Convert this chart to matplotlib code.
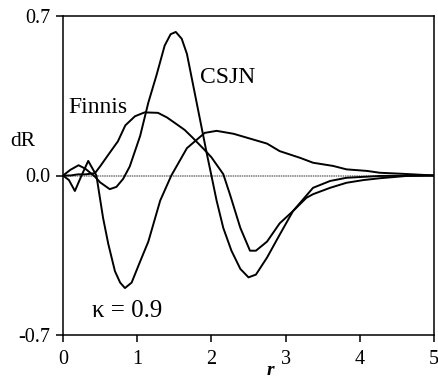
import numpy as np
import matplotlib
matplotlib.use('Agg')
import matplotlib.pyplot as plt

plt.rcParams['font.family'] = ['Liberation Serif', 'DejaVu Serif']

# values
finnis_r = [0, 0.1, 0.2, 0.3, 0.43, 0.5, 0.63, 0.74, 0.84, 0.97, 1.1, 1.28, 1.4, 1.51, 1.64,
            1.75, 1.9, 2.0, 2.16, 2.25, 2.39, 2.52, 2.6, 2.75, 2.92, 3.1, 3.28, 3.37, 3.6,
            3.82, 4.05, 4.27, 4.63, 5.0]
finnis_dr = [0, 0.0, 0.005, 0.005, 0.01, 0.04, 0.10, 0.15, 0.22, 0.26, 0.277, 0.275, 0.255,
             0.23, 0.2, 0.165, 0.115, 0.08, 0.006, -0.083, -0.23, -0.33, -0.33, -0.29, -0.21,
             -0.156, -0.098, -0.082, -0.054, -0.032, -0.02, -0.012, -0.002, 0.0]

csjn_r = [0, 0.1, 0.21, 0.3, 0.43, 0.5, 0.63, 0.72, 0.81, 0.9, 1.04, 1.15, 1.26, 1.37, 1.45,
          1.52, 1.6, 1.67, 1.76, 1.85, 1.94, 2.0, 2.07, 2.16, 2.27, 2.39, 2.5, 2.6, 2.75,
          2.92, 3.1, 3.37, 3.6, 3.82, 4.27, 5.0]
csjn_dr = [0, 0.025, 0.045, 0.03, -0.005, -0.03, -0.06, -0.05, -0.015, 0.04, 0.174, 0.32,
           0.44, 0.57, 0.62, 0.63, 0.6, 0.534, 0.387, 0.24, 0.093, 0.0, -0.11, -0.23, -0.33,
           -0.41, -0.447, -0.435, -0.36, -0.26, -0.156, -0.054, -0.024, -0.01, -0.002, 0.0]

other_r = [0, 0.08, 0.16, 0.25, 0.34, 0.45, 0.54, 0.61, 0.70, 0.77, 0.835, 0.925, 1.04, 1.15,
           1.31, 1.46, 1.67, 1.91, 2.07, 2.3, 2.75, 2.92, 3.2, 3.37, 3.64, 3.82, 4.1, 4.27,
           4.54, 4.72, 5.0]
other_dr = [0, -0.02, -0.068, 0.0, 0.064, 0.0, -0.186, -0.30, -0.42, -0.47, -0.494, -0.47,
            -0.377, -0.29, -0.11, 0.0, 0.12, 0.187, 0.196, 0.183, 0.14, 0.107, 0.077, 0.056,
            0.042, 0.027, 0.02, 0.012, 0.008, 0.005, 0.0]

x_ticks = [0, 1, 2, 3, 4, 5]
y_ticks = [-0.7, 0.0, 0.7]
y_ticklabels = ['-0.7', '0.0', '0.7']

fig = plt.figure(figsize=(4.38, 3.79), dpi=100)
ax = fig.add_axes([63 / 438, 1 - 335 / 379, 371 / 438, 319 / 379])

ax.axhline(0, color='#7a7a7a', lw=1.1, ls=(0, (1, 0.5)), zorder=1)
for r, dr in [(finnis_r, finnis_dr), (csjn_r, csjn_dr), (other_r, other_dr)]:
    ax.plot(r, dr, color='black', lw=1.4, zorder=2)

ax.set_xlim(0, 5)
ax.set_ylim(-0.7, 0.7)
ax.set_xticks(x_ticks)
ax.set_yticks(y_ticks)
ax.set_yticklabels(y_ticklabels)
ax.tick_params(direction='out', length=5, width=1.1, labelsize=14.5, pad=4)
ax.tick_params(axis='x', pad=6)
for s in ax.spines.values():
    s.set_linewidth(1.1)

ax.set_xlabel('r', fontsize=14, style='italic', fontweight='bold')
ax.xaxis.set_label_coords(0.56, -0.085)
ax.set_ylabel('dR', fontsize=15.5, rotation=0, va='center', ha='center')
ax.yaxis.set_label_coords(-0.109, 0.607)

ax.text(0.07, 0.275, 'Finnis', fontsize=17)
ax.text(1.85, 0.407, 'CSJN', fontsize=17)
ax.text(0.39, -0.62, 'κ = 0.9', fontsize=18)

fig.savefig('out.png', dpi=100)
